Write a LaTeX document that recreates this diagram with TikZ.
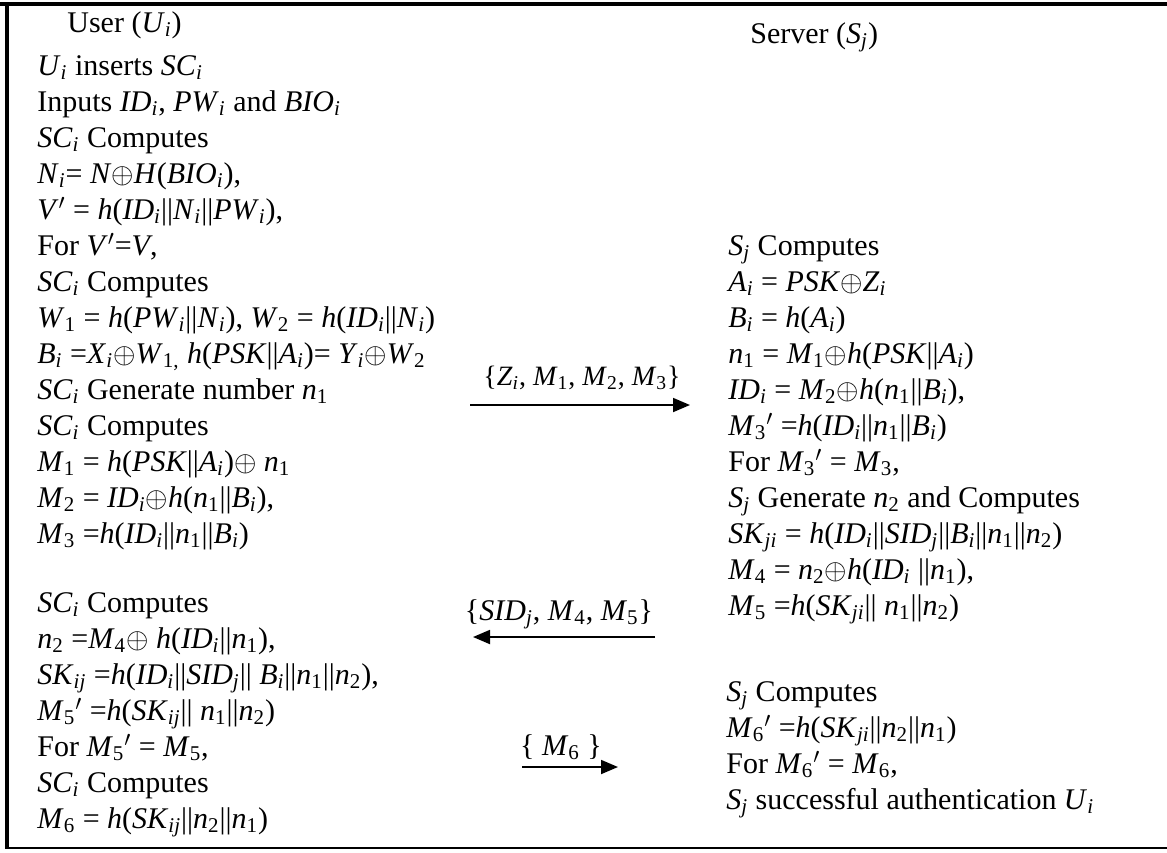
\documentclass[tikz,border=0pt]{standalone}
\usepackage{fontspec}
\setmainfont{Liberation Serif}
\usepackage{tikz}
\usetikzlibrary{arrows.meta}

\newcommand{\vr}[2]{\textit{#1}\textsubscript{\textit{#2}}}  % italic var, italic index
\newcommand{\vd}[2]{\textit{#1}\textsubscript{#2}}           % italic var, digit index
\newcommand{\xo}{\ensuremath{\oplus}}
\newcommand{\prm}{\ensuremath{'}}

\begin{document}
\begin{tikzpicture}[x=0.5pt, y=-0.5pt,
    txt/.style={inner sep=0pt, font=\fontsize{15}{18}\selectfont, align=left},
    msg/.style={line width=0.9pt, -{Triangle[length=8.5pt,width=7pt]}}]
        \useasboundingbox (0,0) rectangle (1167,852);
        % Frame: top, left, bottom
        \draw[line width=2pt] (0,4) -- (1167,4);
        \draw[line width=2pt] (6.5,3) -- (6.5,849);
        \draw[line width=1pt] (5,848) -- (1167,848);
        % Headers
        \node[txt, anchor=base west] (user) at (67,32) {User (\vr{U}{i})};
        \node[txt, anchor=base west] (server) at (750,43) {Server (\vr{S}{j})};
        % User side, first part
        \node[txt, anchor=north west] (uA) at (37,50) {\strut\vr{U}{i} inserts \vr{SC}{i}\\
            Inputs \vr{ID}{i}, \vr{PW}{i} and \vr{BIO}{i}\\
            \vr{SC}{i} Computes\\
            \vr{N}{i}= \textit{N}\xo\textit{H}(\vr{BIO}{i}),\\
            \textit{V}\prm{} = \textit{h}(\vr{ID}{i}||\vr{N}{i}||\vr{PW}{i}),\\
            For \textit{V}\prm=\textit{V},\\
            \vr{SC}{i} Computes\\
            \vd{W}{1} = \textit{h}(\vr{PW}{i}||\vr{N}{i}), \vd{W}{2} = \textit{h}(\vr{ID}{i}||\vr{N}{i})\\
            \vr{B}{i} =\vr{X}{i}\xo\vd{W}{1,} \textit{h}(\textit{PSK}||\vr{A}{i})= \vr{Y}{i}\xo\vd{W}{2}\\
            \vr{SC}{i} Generate number \vd{n}{1}\\
            \vr{SC}{i} Computes\\
            \vd{M}{1} = \textit{h}(\textit{PSK}||\vr{A}{i})\xo{} \vd{n}{1}\\
            \vd{M}{2} = \vr{ID}{i}\xo\textit{h}(\vd{n}{1}||\vr{B}{i}),\\
            \vd{M}{3} =\textit{h}(\vr{ID}{i}||\vd{n}{1}||\vr{B}{i})};
        % User side, second part
        \node[txt, anchor=north west] (uB) at (37,587) {\strut\vr{SC}{i} Computes\\
            \vd{n}{2} =\vd{M}{4}\xo{} \textit{h}(\vr{ID}{i}||\vd{n}{1}),\\
            \vr{SK}{ij} =\textit{h}(\vr{ID}{i}||\vr{SID}{j}|| \vr{B}{i}||\vd{n}{1}||\vd{n}{2}),\\
            \vd{M}{5}\prm{} =\textit{h}(\vr{SK}{ij}|| \vd{n}{1}||\vd{n}{2})\\
            For \vd{M}{5}\prm{} = \vd{M}{5},\\
            \vr{SC}{i} Computes\\
            \vd{M}{6} = \textit{h}(\vr{SK}{ij}||\vd{n}{2}||\vd{n}{1})};
        % Server side, first part
        \node[txt, anchor=north west] (sA) at (728,230) {\strut\vr{S}{j} Computes\\
            \vr{A}{i} = \textit{PSK}\xo\vr{Z}{i}\\
            \vr{B}{i} = \textit{h}(\vr{A}{i})\\
            \vd{n}{1} = \vd{M}{1}\xo\textit{h}(\textit{PSK}||\vr{A}{i})\\
            \vr{ID}{i} = \vd{M}{2}\xo\textit{h}(\vd{n}{1}||\vr{B}{i}),\\
            \vd{M}{3}\prm{} =\textit{h}(\vr{ID}{i}||\vd{n}{1}||\vr{B}{i})\\
            For \vd{M}{3}\prm{} = \vd{M}{3},\\
            \vr{S}{j} Generate \vd{n}{2} and Computes\\
            \vr{SK}{ji} = \textit{h}(\vr{ID}{i}||\vr{SID}{j}||\vr{B}{i}||\vd{n}{1}||\vd{n}{2})\\
            \vd{M}{4} = \vd{n}{2}\xo\textit{h}(\vr{ID}{i} ||\vd{n}{1}),\\
            \vd{M}{5} =\textit{h}(\vr{SK}{ji}|| \vd{n}{1}||\vd{n}{2})};
        % Server side, second part
        \node[txt, anchor=north west] (sB) at (726,676) {\strut\vr{S}{j} Computes\\
            \vd{M}{6}\prm{} =\textit{h}(\vr{SK}{ji}||\vd{n}{2}||\vd{n}{1})\\
            For \vd{M}{6}\prm{} = \vd{M}{6},\\
            \vr{S}{j} successful authentication \vr{U}{i}};
        % Messages
        \coordinate (m1a) at (470,405);
        \coordinate (m1b) at (690,405);
        \coordinate (m2a) at (655,637);
        \coordinate (m2b) at (473,637);
        \coordinate (m3a) at (522,767);
        \coordinate (m3b) at (618,767);
        \draw[msg] (m1a) -- (m1b);
        \draw[msg] (m2a) -- (m2b);
        \draw[msg] (m3a) -- (m3b);
        \node[txt, anchor=base, font=\fontsize{14}{18}\selectfont] (lab1) at (582,385) {\{\vr{Z}{i}, \vd{M}{1}, \vd{M}{2}, \vd{M}{3}\}};
        \node[txt, anchor=base] (lab2) at (559,620) {\{\vr{SID}{j}, \vd{M}{4}, \vd{M}{5}\}};
        \node[txt, anchor=base] (lab3) at (561,755) {\{ \vd{M}{6} \}};
      \end{tikzpicture}
\end{document}
